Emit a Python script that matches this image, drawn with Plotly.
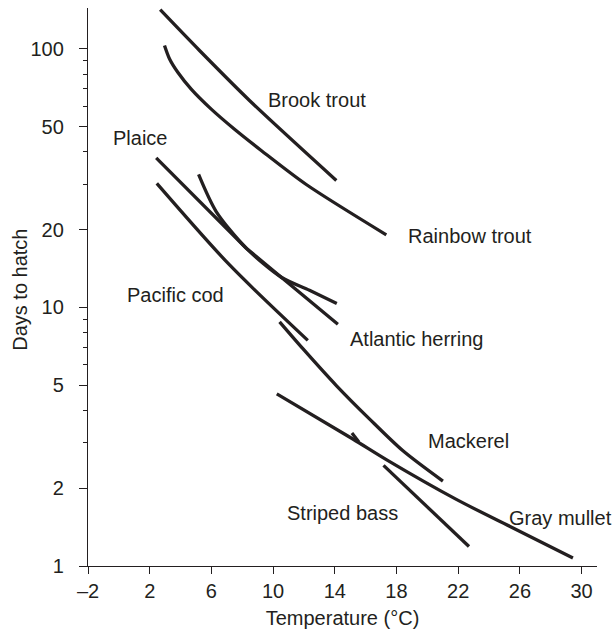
import math
import plotly.graph_objects as go

# ---- data ----
brook_x = [2.68, 5.23, 8.47, 14.1]
brook_y = [141.8, 98.6, 63.2, 31.0]

rainbow_x = [2.96, 3.29, 3.82, 4.69, 5.99, 7.5, 9.23, 12.15, 17.34]
rainbow_y = [103.1, 91.4, 81.2, 69.9, 58.5, 48.9, 40.5, 29.9, 19.1]

plaice_x = [2.42, 5.23, 8.26, 14.2]
plaice_y = [37.9, 25.8, 16.96, 8.61]

herring_x = [5.17, 6.31, 8.26, 10.53, 12.36, 14.13]
herring_y = [32.7, 23.5, 16.96, 13.09, 11.65, 10.37]

cod_x = [2.46, 7.18, 12.25]
cod_y = [30.2, 14.6, 7.46]

mackerel_x = [10.42, 11.93, 14.1, 16.26, 18.42, 21.01]
mackerel_y = [8.80, 6.93, 4.99, 3.70, 2.79, 2.13]

mullet_x = [10.24, 15.17, 17.34, 21.88, 25.33, 29.44]
mullet_y = [4.63, 3.10, 2.58, 1.81, 1.425, 1.074]

stub_x = [15.11, 15.56]
stub_y = [3.27, 3.02]

bass_x = [17.16, 22.7]
bass_y = [2.45, 1.19]

label_text = ["Brook trout", "Rainbow trout", "Plaice", "Pacific cod",
              "Atlantic herring", "Mackerel", "Striped bass", "Gray mullet"]
label_x = [12.82, 22.74, 1.34, 3.67, 19.28, 22.68, 14.49, 28.64]
label_y = [63.2, 18.9, 45.4, 11.2, 7.58, 3.04, 1.61, 1.54]

x_ticks = [-2, 2, 6, 10, 14, 18, 22, 26, 30]
x_ticktext = ["\u20132", "2", "6", "10", "14", "18", "22", "26", "30"]
y_ticks = [1, 2, 5, 10, 20, 50, 100]
y_minor = [3, 4, 6, 7, 8, 9, 30, 40, 60, 70, 80, 90]

INK = "#231f20"
FONT = "Liberation Sans, Arial, sans-serif"
FS = 20
LW = 3.3

fig = go.Figure()
series = [
    ("Brook trout", brook_x, brook_y, "spline"),
    ("Rainbow trout", rainbow_x, rainbow_y, "spline"),
    ("Plaice", plaice_x, plaice_y, "linear"),
    ("Atlantic herring", herring_x, herring_y, "spline"),
    ("Pacific cod", cod_x, cod_y, "spline"),
    ("Mackerel", mackerel_x, mackerel_y, "spline"),
    ("Gray mullet", mullet_x, mullet_y, "spline"),
    ("mark", stub_x, stub_y, "linear"),
    ("Striped bass", bass_x, bass_y, "linear"),
]
for name, xs, ys, shape in series:
    fig.add_trace(go.Scatter(x=xs, y=ys, mode="lines", name=name,
                             line=dict(color=INK, width=LW, shape=shape,
                                       smoothing=0.8),
                             showlegend=False, hoverinfo="skip"))

for t, lx, ly in zip(label_text, label_x, label_y):
    fig.add_annotation(x=lx, y=math.log10(ly), xref="x", yref="y", text=t,
                       showarrow=False, xanchor="center", yanchor="middle",
                       font=dict(family=FONT, size=FS, color=INK))

# y-axis title as a rotated annotation so that it can be placed precisely
fig.add_annotation(x=0, y=0.495, xref="paper", yref="paper", xshift=-68,
                   text="Days to hatch", textangle=-90, showarrow=False,
                   xanchor="center", yanchor="middle",
                   font=dict(family=FONT, size=FS, color=INK))

fig.update_layout(
    width=614, height=631, autosize=False,
    margin=dict(l=88, r=17, t=8, b=65, pad=0),
    paper_bgcolor="white", plot_bgcolor="white",
    font=dict(family=FONT, size=FS, color=INK),
    showlegend=False,
)
fig.update_xaxes(
    range=[-2, 31], tickmode="array", tickvals=x_ticks, ticktext=x_ticktext,
    ticks="outside", ticklen=7, tickwidth=1.3, tickcolor=INK,
    showline=True, linecolor=INK, linewidth=1.3,
    showgrid=False, zeroline=False, automargin=False,
    title=dict(text="Temperature (°C)", standoff=9,
               font=dict(family=FONT, size=FS, color=INK)),
    tickfont=dict(family=FONT, size=FS, color=INK),
)
fig.update_yaxes(
    type="log", range=[0, math.log10(144)], tickmode="array", tickvals=y_ticks,
    ticks="outside", ticklen=8, tickwidth=1.3, tickcolor=INK,
    minor=dict(tickmode="array", tickvals=y_minor, ticks="outside",
               ticklen=4, tickwidth=1.1, tickcolor=INK, showgrid=False),
    showline=True, linecolor=INK, linewidth=1.3,
    showgrid=False, zeroline=False, automargin=False,
    ticklabelstandoff=11,
    tickfont=dict(family=FONT, size=FS, color=INK),
)

# remove the browser's default 8 px page margin so the figure fills the window
fig.write_html(
    "out.html",
    config={"displayModeBar": False},
    post_script="document.body.style.margin='0';"
                "document.documentElement.style.overflow='hidden';",
)
